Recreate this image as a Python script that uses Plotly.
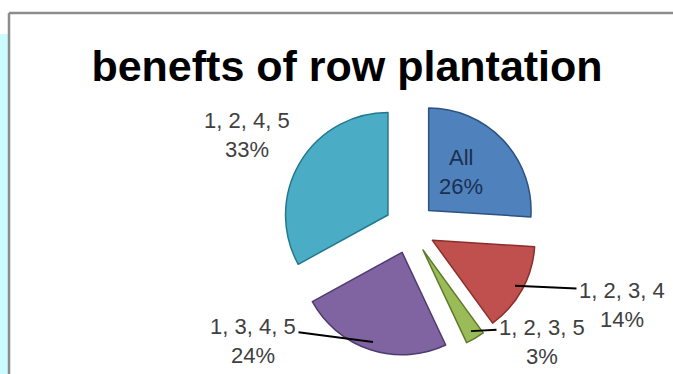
import math
import plotly.graph_objects as go

labels = ["All", "1, 2, 3, 4", "1, 2, 3, 5", "1, 3, 4, 5", "1, 2, 4, 5"]
values = [26, 14, 3, 24, 33]
colors = ["#4F81BD", "#C0504D", "#9BBB59", "#8064A2", "#4BACC6"]
edges = ["#2C5282", "#8B2E2B", "#5E7A2C", "#4E3B70", "#22798F"]

# label placement (style): centre of the label's two-line block in pixels
label_pos = [(461, 172), (622, 305), (542, 342), (253, 341), (247, 135)]
leader = [False, True, True, True, False]
label_color = ["#1B2F4F", "#404040", "#404040", "#404040", "#404040"]
LINE_GAP = 29

W, H = 673, 374
cx, cy, R = 410, 228, 128
PULL = 0.25
r_pie = R / (1 + PULL)

fig = go.Figure(go.Pie(
    labels=labels, values=values, sort=False, direction="clockwise", rotation=0,
    pull=[PULL] * len(values),
    marker=dict(colors=colors, line=dict(color=edges, width=1.5)),
    textinfo="none", textposition="none",
    showlegend=False, hoverinfo="skip", automargin=False,
    domain=dict(x=[(cx - R) / W, (cx + R) / W], y=[1 - (cy + R) / H, 1 - (cy - R) / H]),
))

total = sum(values)
annotations = []
acc = 0
for lab, v, (lx, ly), lead, col in zip(labels, values, label_pos, leader, label_color):
    mid = (acc + v / 2) / total * 2 * math.pi
    acc += v
    pct = f"{round(v / total * 100)}%"
    font = dict(family="Liberation Sans", size=22, color=col)
    y1 = ly - LINE_GAP / 2
    y2 = ly + LINE_GAP / 2
    if lead:
        dist = PULL * r_pie + 0.92 * r_pie
        tx = cx + dist * math.sin(mid)
        ty = cy - dist * math.cos(mid)
        annotations.append(dict(
            x=tx / W, y=1 - ty / H, xref="paper", yref="paper",
            text=lab, showarrow=True, arrowhead=0, arrowwidth=2, arrowcolor="#000000",
            axref="pixel", ayref="pixel", ax=lx - tx, ay=y1 - ty, standoff=0,
            startstandoff=1, font=font))
    else:
        annotations.append(dict(
            x=lx / W, y=1 - y1 / H, xref="paper", yref="paper",
            xanchor="center", yanchor="middle",
            text=lab, showarrow=False, font=font))
    annotations.append(dict(
        x=lx / W, y=1 - y2 / H, xref="paper", yref="paper",
        xanchor="center", yanchor="middle",
        text=pct, showarrow=False, font=font))

fig.update_layout(
    width=W, height=H, autosize=False,
    margin=dict(l=0, r=0, t=0, b=0, pad=0, autoexpand=False),
    paper_bgcolor="white", plot_bgcolor="white",
    title=dict(text="<b>benefts of row plantation</b>", x=347 / W, xanchor="center",
               y=1 - 66 / H, yanchor="middle",
               font=dict(family="Liberation Sans", size=43, color="#000000")),
    annotations=annotations,
    shapes=[
        dict(type="rect", xref="paper", yref="paper", x0=0, x1=8 / W, y0=0, y1=1 - 34 / H,
             fillcolor="#CCFBFF", line=dict(width=0), layer="below"),
        dict(type="line", xref="paper", yref="paper", x0=9 / W, x1=1, y0=1 - 13 / H, y1=1 - 13 / H,
             line=dict(color="#8C8C8C", width=2.5)),
        dict(type="line", xref="paper", yref="paper", x0=9 / W, x1=9 / W, y0=0, y1=1 - 13 / H,
             line=dict(color="#8C8C8C", width=2.5)),
    ],
)

fig.write_html("out.html", config={"responsive": False},
               post_script="document.body.style.margin='0';")
